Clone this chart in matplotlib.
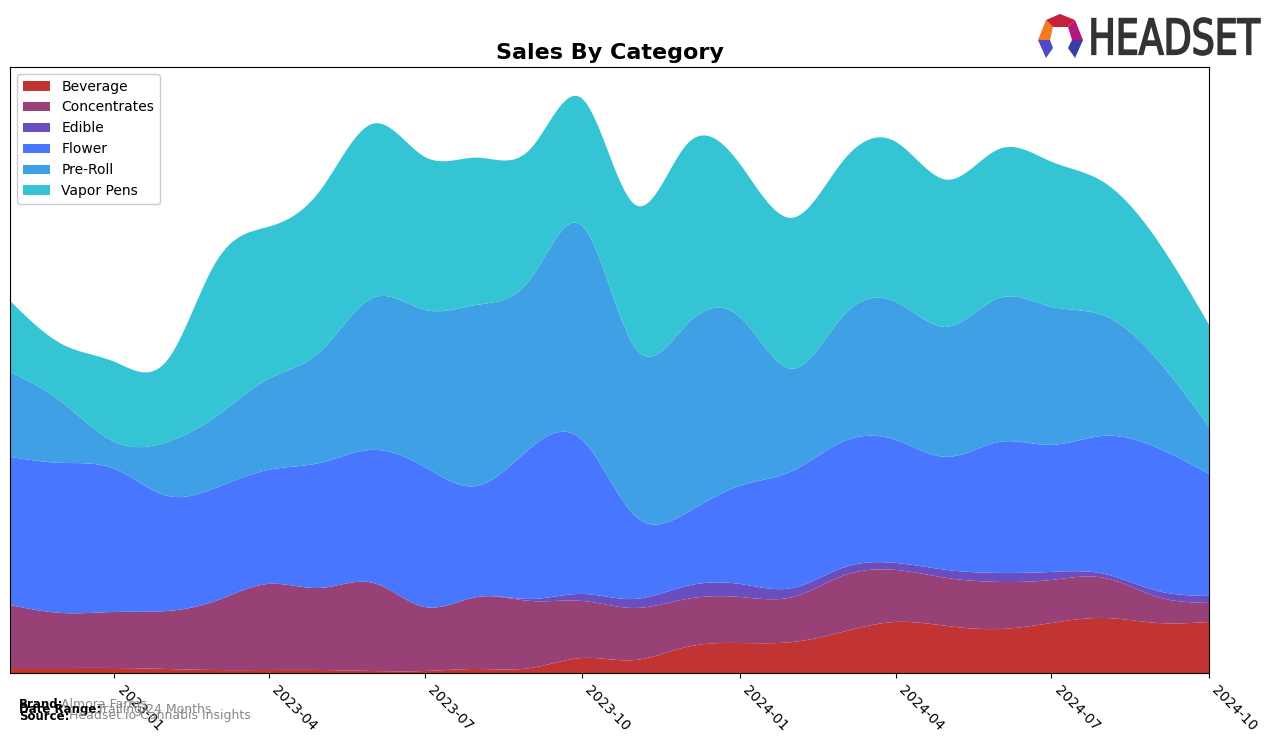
import numpy as np
import pandas as pd
import matplotlib
matplotlib.use("Agg")
import matplotlib.pyplot as plt
import matplotlib.dates as mdates
from matplotlib.patches import Polygon, PathPatch
from matplotlib.textpath import TextPath
from matplotlib.font_manager import FontProperties
from matplotlib.transforms import Affine2D

# ---------------- data ----------------
months = pd.date_range("2022-11-01", periods=24, freq="MS")
categories = ["Beverage", "Concentrates", "Edible", "Flower", "Pre-Roll", "Vapor Pens"]
colors = ["#c23434", "#974177", "#6a4dbf", "#4876fe", "#3fa0e6", "#34c4d3"]

beverage = [5, 5, 5, 4, 3, 3, 3, 2, 2, 4, 5, 15, 13, 26, 30, 31, 41, 51, 47, 44, 50, 55, 50, 51]
concentrates = [63, 55, 56, 58, 69, 86, 82, 88, 64, 72, 67, 57, 52, 48, 46, 45, 56, 52, 48, 47, 43, 40, 26, 19]
edible = [0, 0, 0, 0, 0, 0, 0, 0, 0, 0, 2, 7, 9, 13, 13, 9, 8, 7, 8, 9, 8, 4, 6, 7]
flower = [148, 150, 143, 115, 113, 114, 125, 133, 140, 111, 151, 154, 83, 73, 98, 117, 126, 123, 113, 131, 127, 138, 143, 122]
preroll = [85, 61, 27, 54, 71, 91, 111, 152, 157, 181, 169, 214, 168, 188, 169, 102, 125, 138, 130, 144, 138, 120, 88, 47]
vapor = [71, 58, 80, 82, 154, 152, 161, 174, 153, 147, 130, 127, 143, 180, 153, 151, 155, 160, 147, 149, 145, 133, 119, 102]

series = [beverage, concentrates, edible, flower, preroll, vapor]

footer_labels = ["Brand:", "Date Range:", "Source:"]
footer_values = ["Almora Farms", "Trailing 24 Months", "Headset.io Cannabis Insights"]


def natural_cubic(x, y, xs):
    x = np.asarray(x, float)
    y = np.asarray(y, float)
    n = len(x)
    h = np.diff(x)
    A = np.zeros((n, n))
    b = np.zeros(n)
    A[0, 0] = 1
    A[-1, -1] = 1
    for i in range(1, n - 1):
        A[i, i - 1] = h[i - 1]
        A[i, i] = 2 * (h[i - 1] + h[i])
        A[i, i + 1] = h[i]
        b[i] = 3 * ((y[i + 1] - y[i]) / h[i] - (y[i] - y[i - 1]) / h[i - 1])
    c = np.linalg.solve(A, b)
    bc = (y[1:] - y[:-1]) / h - h * (2 * c[:-1] + c[1:]) / 3
    d = (c[1:] - c[:-1]) / (3 * h)
    idx = np.clip(np.searchsorted(x, xs) - 1, 0, n - 2)
    dx = xs - x[idx]
    return y[idx] + bc[idx] * dx + c[idx] * dx ** 2 + d[idx] * dx ** 3


xnum = mdates.date2num(months.to_pydatetime())
xs = np.linspace(xnum[0], xnum[-1], 1200)
smooth = [np.clip(natural_cubic(xnum, s, xs), 0, None) for s in series]

# ---------------- figure ----------------
W, H = 1276, 743
fig = plt.figure(figsize=(W / 100, H / 100), dpi=100)
ax = fig.add_axes([10 / W, 1 - 673 / H, (1209 - 10) / W, (673 - 67) / H])

ax.stackplot(xs, *smooth, labels=categories, colors=colors, linewidth=0)
total = np.sum(smooth, axis=0)
ax.set_xlim(xnum[0], xnum[-1])
ax.set_ylim(0, total.max() * 1.05)
ax.set_yticks([])
ax.xaxis.set_major_locator(mdates.MonthLocator(bymonth=[1, 4, 7, 10]))
ax.xaxis.set_major_formatter(mdates.DateFormatter("%Y-%m"))
for lab in ax.get_xticklabels():
    lab.set_rotation(-45)
    lab.set_ha("left")
    lab.set_rotation_mode("default")
ax.tick_params(axis="x", labelsize=10)
ax.set_title("Sales By Category", fontsize=16, fontweight="bold", pad=6)
ax.legend(loc="upper left", fontsize=10, framealpha=1)


def fx(px):
    return px / W


def fy(py):
    return 1 - py / H


# footer
footer_y = [704, 710, 716]
footer_ofs = [42, 78, 50]
for lbl, val, yy, ofs in zip(footer_labels, footer_values, footer_y, footer_ofs):
    fig.text(fx(19), fy(yy), lbl, fontsize=8.5, fontweight="bold", va="center", ha="left")
    fig.text(fx(19 + ofs), fy(yy), val, fontsize=9, color="#888888", va="center", ha="left")

# logo icon
logo_polys = [
    ([(1038, 40), (1046, 20), (1053, 27), (1050, 40)], "#f47a20"),
    ([(1046, 20), (1060, 14), (1075, 20), (1068, 27), (1053, 27)], "#c8203a"),
    ([(1075, 20), (1083, 40), (1072, 40), (1068, 27)], "#b5177a"),
    ([(1038, 40), (1050, 40), (1053, 48), (1046, 58)], "#5048c8"),
    ([(1072, 40), (1083, 40), (1075, 58), (1068, 48)], "#3a3aa8"),
]
for pts, col in logo_polys:
    fig.patches.append(Polygon([(fx(px), fy(py)) for px, py in pts], closed=True,
                               transform=fig.transFigure, facecolor=col, edgecolor="none"))

# logo text, scaled to fit box
tp = TextPath((0, 0), "HEADSET", size=50, prop=FontProperties(family="DejaVu Sans"))
bb = tp.get_extents()
x0, x1, y0, y1 = 1092, 1260, 18, 55
sx = (x1 - x0) / bb.width
sy = (y1 - y0) / bb.height
tr = Affine2D().translate(-bb.x0, -bb.y0).scale(sx, sy).translate(x0, H - y1)
fig.patches.append(PathPatch(tr.transform_path(tp), transform=None,
                             facecolor="#333333", edgecolor="#333333", linewidth=1.2))

fig.savefig("out.png", dpi=100)
